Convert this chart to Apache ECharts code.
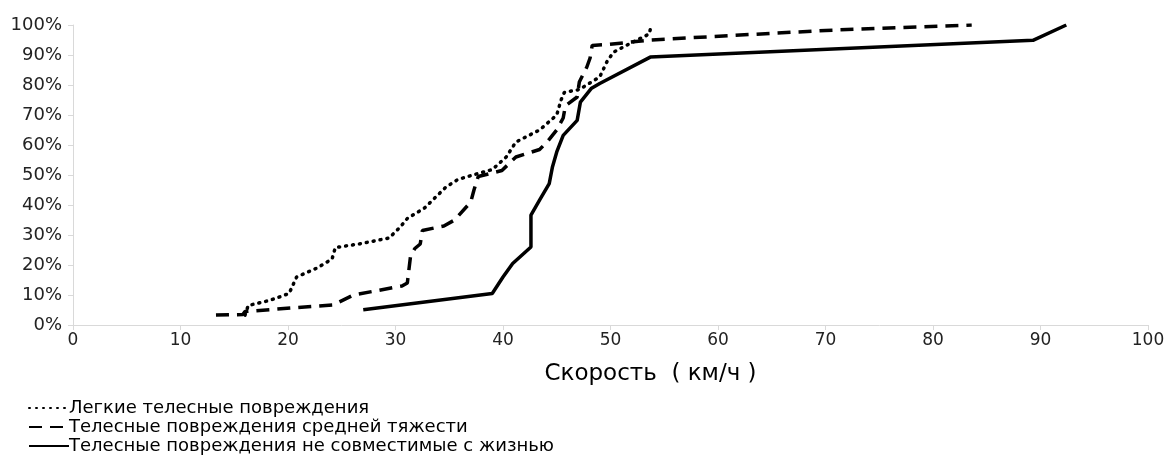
<!DOCTYPE html>
<html>
<head>
<meta charset="utf-8">
<script src="https://cdn.jsdelivr.net/npm/echarts@6/dist/echarts.min.js"></script>
<style>html,body{margin:0;padding:0;background:#fff}#c{width:1168px;height:472px}</style>
</head>
<body>
<div id="c"></div>
<script>
var seriesNames = ['Легкие телесные повреждения', 'Телесные повреждения средней тяжести', 'Телесные повреждения не совместимые с жизнью'];
var xTickLabels = ['0','10','20','30','40','50','60','70','80','90','100'];
var yTickLabels = ['0%','10%','20%','30%','40%','50%','60%','70%','80%','90%','100%'];
var lightData = [[16.0,3.3],[16.3,6.5],[18.3,8.2],[20.1,10.5],[20.8,16],[22.7,19],[24.1,22],[24.4,25.8],[26.6,27],[29.4,29],[30.4,32.5],[31.1,35.5],[32.7,39],[34.7,46],[35.8,48.5],[37.2,50],[39.0,51.8],[40.3,56],[41.2,61],[43.4,65],[45.0,70],[45.4,75],[45.7,77.5],[47.1,78.5],[49.0,82.7],[49.7,88],[50.3,91],[51.8,93.8],[53.6,97],[53.8,100]];
var mediumData = [[13.3,3.3],[15.8,3.5],[16.0,4.5],[24.2,6.7],[26.1,10],[30.6,13],[31.1,14],[31.4,23],[31.8,25.5],[32.3,27],[32.5,31.5],[34.5,33],[35.5,35],[37.0,41],[37.3,45],[37.7,49.5],[39.9,51.5],[41.2,56],[43.4,58.5],[44.1,61],[45.0,65],[45.6,69],[45.8,73],[46.9,76],[47.1,81],[47.8,86],[48.1,89],[48.3,93.2],[49.8,93.5],[53.7,95],[70,98.2],[83.6,100]];
var fatalData = [[27.0,5.1],[39.0,10.5],[40.0,16],[40.9,20.5],[42.6,26],[42.6,36.6],[43.4,41.6],[44.3,47.1],[44.6,52.7],[45.0,57.7],[45.6,63.2],[46.9,68.2],[47.2,74.3],[48.2,78.8],[49.0,80.5],[53.7,89.3],[89.3,94.9],[92.4,100]];

var chart = echarts.init(document.getElementById('c'), null, {renderer:'canvas'});
var font = 'DejaVu Sans, sans-serif';
chart.setOption({
  animation: false,
  grid: {left: 73, right: 20, top: 25, bottom: 147},
  legend: {
    orient: 'vertical', left: 23, top: 394, itemWidth: 40, itemHeight: 12, itemGap: 1,
    itemStyle: {opacity: 0},
    textStyle: {fontFamily: font, fontSize: 18, color: '#000', padding: [0,0,0,-5]},
    data: seriesNames
  },
  xAxis: {
    type: 'value', min: 0, max: 100, interval: 10,
    name: 'Скорость  ( км/ч )', nameLocation: 'middle', nameGap: 38,
    nameTextStyle: {fontFamily: font, fontSize: 23, color: '#000', padding: [0,0,0,80]},
    axisLine: {lineStyle: {color: '#d9d9d9'}},
    axisTick: {show: true, length: 5, lineStyle: {color: '#d9d9d9'}},
    axisLabel: {fontFamily: font, fontSize: 17, color: '#222', margin: 7,
      formatter: function(v){ return xTickLabels[Math.round(v/10)]; }},
    splitLine: {show: false}
  },
  yAxis: {
    type: 'value', min: 0, max: 100, interval: 10,
    axisLine: {show: true, lineStyle: {color: '#d9d9d9'}},
    axisTick: {show: true, length: 5, lineStyle: {color: '#d9d9d9'}},
    axisLabel: {fontFamily: font, fontSize: 18, color: '#222', margin: 11,
      formatter: function(v){ return yTickLabels[Math.round(v/10)]; }},
    splitLine: {show: false}
  },
  series: [
    {name: seriesNames[0], type: 'line', data: lightData, symbol: 'none',
     lineStyle: {color: '#000', width: 3.5, type: [1, 6], cap: 'round'}, itemStyle: {color: '#000'}},
    {name: seriesNames[1], type: 'line', data: mediumData, symbol: 'none',
     lineStyle: {color: '#000', width: 3.5, type: [13, 8], cap: 'butt'}, itemStyle: {color: '#000'}},
    {name: seriesNames[2], type: 'line', data: fatalData, symbol: 'none',
     lineStyle: {color: '#000', width: 3.5, type: 'solid'}, itemStyle: {color: '#000'}}
  ]
});
</script>
</body>
</html>
